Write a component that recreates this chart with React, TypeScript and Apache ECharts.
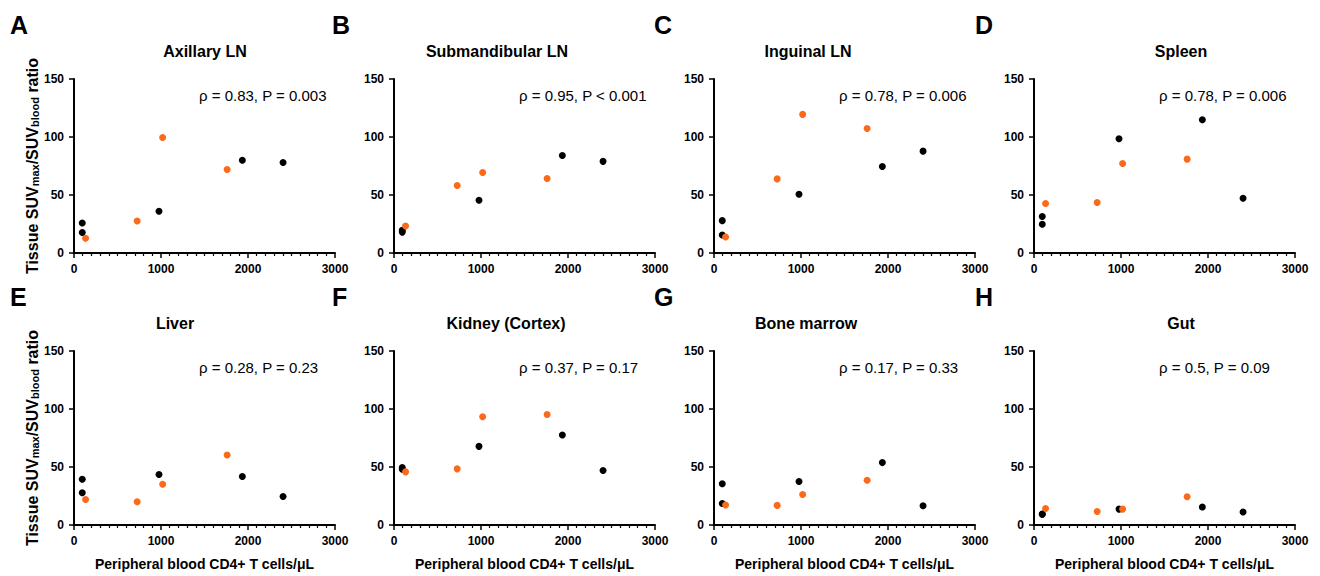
import React, { useEffect, useRef } from "react";
import * as echarts from "echarts";

const PANEL_LETTERS = ["A", "B", "C", "D", "E", "F", "G", "H"];
const PANEL_TITLES = ["Axillary LN", "Submandibular LN", "Inguinal LN", "Spleen", "Liver", "Kidney (Cortex)", "Bone marrow", "Gut"];
const STATS = [
  "ρ = 0.83, P = 0.003",
  "ρ = 0.95, P < 0.001",
  "ρ = 0.78, P = 0.006",
  "ρ = 0.78, P = 0.006",
  "ρ = 0.28, P = 0.23",
  "ρ = 0.37, P = 0.17",
  "ρ = 0.17, P = 0.33",
  "ρ = 0.5, P = 0.09",
];
const X_TICKS = [0, 1000, 2000, 3000];
const Y_TICKS = [0, 50, 100, 150];
const X_NAME = "Peripheral blood CD4+ T cells/μL";
const Y_NAME = "{a|Tissue SUV}{s|max}{a|/SUV}{s|blood}{a| ratio}";

// CD4+ counts (x) for the two groups
const BLACK_X = [95, 95, 977, 1935, 2403];
const ORANGE_X = [133, 726, 1019, 1760];

// Tissue SUVmax/SUVblood ratio per panel
const BLACK_Y_A = [25.9, 17.6, 36, 80, 78];
const ORANGE_Y_A = [12.7, 27.6, 99.6, 72];
const BLACK_Y_B = [19.6, 18, 45.5, 84, 79];
const ORANGE_Y_B = [23.3, 58.2, 69.4, 64.2];
const BLACK_Y_C = [27.9, 15.5, 50.7, 74.6, 87.8];
const ORANGE_Y_C = [13.8, 63.9, 119.5, 107.4];
const BLACK_Y_D = [31.4, 24.8, 98.5, 114.9, 47.2];
const ORANGE_Y_D = [42.6, 43.5, 77.2, 80.9];
const BLACK_Y_E = [39.5, 27.8, 43.5, 41.8, 24.6];
const ORANGE_Y_E = [22, 20, 35.2, 60.4];
const BLACK_Y_F = [49.5, 48, 67.8, 77.6, 47];
const ORANGE_Y_F = [45.8, 48.4, 93.3, 95.3];
const BLACK_Y_G = [35.5, 18.6, 37.5, 53.8, 16.6];
const ORANGE_Y_G = [17.2, 16.9, 26.3, 38.6];
const BLACK_Y_H = [9.4, 9.2, 13.7, 15.5, 11.2];
const ORANGE_Y_H = [14.3, 11.7, 13.7, 24.3];

const BLACK_YS = [BLACK_Y_A, BLACK_Y_B, BLACK_Y_C, BLACK_Y_D, BLACK_Y_E, BLACK_Y_F, BLACK_Y_G, BLACK_Y_H];
const ORANGE_YS = [ORANGE_Y_A, ORANGE_Y_B, ORANGE_Y_C, ORANGE_Y_D, ORANGE_Y_E, ORANGE_Y_F, ORANGE_Y_G, ORANGE_Y_H];

const FONT = "'Liberation Sans', Arial, Helvetica, sans-serif";
const ORANGE = "#FA6A1A";

// layout
const GRID_LEFT0 = 74;
const COL_STEP = 320;
const GRID_W = 261;
const ROW_TOPS = [79, 351];
const GRID_H = 174;
const TITLE_CX = [205, 497, 808, 1181, 175, 506, 806, 1181];
const LETTER_X = [10, 332, 654, 975];

export default function App() {
  const ref = useRef<HTMLDivElement>(null);

  useEffect(() => {
    if (!ref.current) return;
    const chart = echarts.init(ref.current, undefined, { renderer: "svg" });

    const grids: any[] = [];
    const xAxes: any[] = [];
    const yAxes: any[] = [];
    const series: any[] = [];
    const graphics: any[] = [];

    for (let i = 0; i < 8; i++) {
      const col = i % 4;
      const row = Math.floor(i / 4);
      const left = GRID_LEFT0 + col * COL_STEP;
      const top = ROW_TOPS[row];
      grids.push({ left, top, width: GRID_W, height: GRID_H, containLabel: false });

      xAxes.push({
        gridIndex: i,
        type: "value",
        min: X_TICKS[0],
        max: X_TICKS[X_TICKS.length - 1],
        interval: X_TICKS[1] - X_TICKS[0],
        name: row === 1 ? X_NAME : "",
        nameLocation: "middle",
        nameGap: 32,
        nameTextStyle: { fontFamily: FONT, fontSize: 14, fontWeight: "bold", color: "#000" },
        axisLine: { show: true, onZero: false, lineStyle: { color: "#000", width: 2 } },
        axisTick: { show: true, length: 5, lineStyle: { color: "#000", width: 1.5 } },
        minorTick: { show: true, splitNumber: 10, length: 3, lineStyle: { color: "#000", width: 1.2 } },
        splitLine: { show: false },
        minorSplitLine: { show: false },
        axisLabel: {
          fontFamily: FONT,
          fontSize: 12,
          fontWeight: "bold",
          color: "#000",
          margin: 10,
          formatter: (v: number) => String(v),
        },
      });

      yAxes.push({
        gridIndex: i,
        type: "value",
        min: Y_TICKS[0],
        max: Y_TICKS[Y_TICKS.length - 1],
        interval: Y_TICKS[1] - Y_TICKS[0],
        axisLine: { show: true, onZero: false, lineStyle: { color: "#000", width: 2 } },
        axisTick: { show: true, length: 5, lineStyle: { color: "#000", width: 1.5 } },
        splitLine: { show: false },
        axisLabel: {
          fontFamily: FONT,
          fontSize: 12,
          fontWeight: "bold",
          color: "#000",
          margin: 10,
          formatter: (v: number) => String(v),
        },
      });

      series.push({
        type: "scatter",
        xAxisIndex: i,
        yAxisIndex: i,
        symbol: "circle",
        symbolSize: 7,
        itemStyle: { color: "#000", opacity: 1 },
        data: BLACK_X.map((x, k) => [x, BLACK_YS[i][k]]),
        z: 2,
      });
      series.push({
        type: "scatter",
        xAxisIndex: i,
        yAxisIndex: i,
        symbol: "circle",
        symbolSize: 7,
        itemStyle: { color: ORANGE, opacity: 1 },
        data: ORANGE_X.map((x, k) => [x, ORANGE_YS[i][k]]),
        z: 3,
      });

      const rowOff = row * (ROW_TOPS[1] - ROW_TOPS[0]);
      graphics.push({
        type: "text",
        left: LETTER_X[col],
        top: 12 + rowOff,
        style: { text: PANEL_LETTERS[i], font: `bold 25px ${FONT}`, fill: "#000" },
      });
      graphics.push({
        type: "text",
        x: TITLE_CX[i],
        y: 51 + rowOff,
        style: { text: PANEL_TITLES[i], font: `bold 16px ${FONT}`, fill: "#000", textAlign: "center", textVerticalAlign: "middle" },
      });
      graphics.push({
        type: "text",
        x: left + 125,
        y: 95 + rowOff,
        style: { text: STATS[i], font: `15px ${FONT}`, fill: "#000", textAlign: "left", textVerticalAlign: "middle" },
      });
      if (col === 0) {
        graphics.push({
          type: "text",
          x: 29,
          y: top + GRID_H / 2,
          rotation: Math.PI / 2,
          style: {
            text: Y_NAME,
            textAlign: "center",
            textVerticalAlign: "middle",
            rich: {
              a: { fontFamily: FONT, fontSize: 16, fontWeight: "bold", fill: "#000", lineHeight: 22, verticalAlign: "bottom" },
              s: { fontFamily: FONT, fontSize: 11, fontWeight: "bold", fill: "#000", lineHeight: 8, verticalAlign: "bottom" },
            },
          },
        });
      }
    }

    chart.setOption({
      animation: false,
      backgroundColor: "#fff",
      grid: grids,
      xAxis: xAxes,
      yAxis: yAxes,
      series,
      graphic: graphics,
    });

    return () => chart.dispose();
  }, []);

  return (
    <div
      ref={ref}
      style={{ position: "fixed", left: 0, top: 0, width: 1320, height: 576, background: "#fff" }}
    />
  );
}
